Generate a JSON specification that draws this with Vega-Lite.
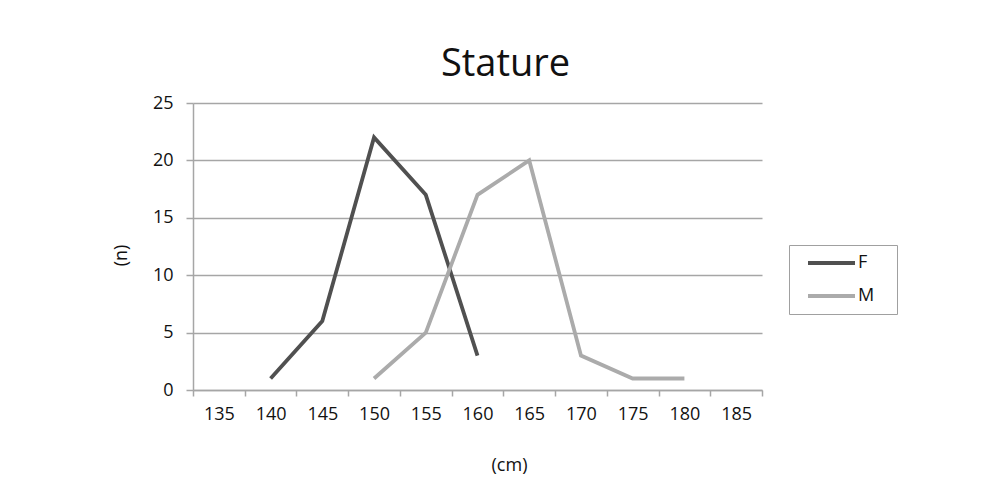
{
  "$schema": "https://vega.github.io/schema/vega-lite/v6.json",
  "autosize": {"type": "none"},
  "padding": {"left": 193, "top": 103, "right": 226, "bottom": 104},
  "width": 569,
  "height": 287,
  "background": "white",
  "title": {
    "text": "Stature",
    "font": "Open Sans",
    "fontSize": 38,
    "fontWeight": "normal",
    "color": "#111111",
    "anchor": "middle",
    "dx": 28,
    "offset": 10
  },
  "data": {
    "values": [
      {"cm": 140, "n": 1, "sex": "F"},
      {"cm": 145, "n": 6, "sex": "F"},
      {"cm": 150, "n": 22, "sex": "F"},
      {"cm": 155, "n": 17, "sex": "F"},
      {"cm": 160, "n": 3, "sex": "F"},
      {"cm": 150, "n": 1, "sex": "M"},
      {"cm": 155, "n": 5, "sex": "M"},
      {"cm": 160, "n": 17, "sex": "M"},
      {"cm": 165, "n": 20, "sex": "M"},
      {"cm": 170, "n": 3, "sex": "M"},
      {"cm": 175, "n": 1, "sex": "M"},
      {"cm": 180, "n": 1, "sex": "M"}
    ]
  },
  "mark": {"type": "line", "strokeWidth": 3.8, "strokeJoin": "miter"},
  "encoding": {
    "x": {
      "field": "cm",
      "type": "ordinal",
      "bandPosition": 0.5,
      "scale": {"type": "band", "domain": [135, 140, 145, 150, 155, 160, 165, 170, 175, 180, 185], "paddingInner": 0, "paddingOuter": 0},
      "axis": {
        "title": "(cm)",
        "labelAngle": 0,
        "tickBand": "extent",
        "grid": false,
        "domainColor": "#a6a6a6",
        "domainWidth": 1.5,
        "tickColor": "#a6a6a6",
        "tickWidth": 1.5,
        "tickSize": 6,
        "labelPadding": 9,
        "titleX": 316,
        "titleY": 75,
        "titleBaseline": "middle",
        "titleAnchor": null
      }
    },
    "y": {
      "field": "n",
      "type": "quantitative",
      "scale": {"domain": [0, 25]},
      "axis": {
        "title": "(n)",
        "values": [0, 5, 10, 15, 20, 25],
        "grid": true,
        "gridColor": "#a6a6a6",
        "gridWidth": 1.5,
        "domainColor": "#a6a6a6",
        "domainWidth": 1.5,
        "tickColor": "#a6a6a6",
        "tickWidth": 1.5,
        "tickSize": 7,
        "labelPadding": 13,
        "titleAngle": -90,
        "titleX": -72,
        "titleY": 152,
        "titleBaseline": "middle",
        "titleAnchor": null
      }
    },
    "color": {
      "field": "sex",
      "type": "nominal",
      "scale": {"domain": ["F", "M"], "range": ["#505050", "#ababab"]},
      "legend": {
        "title": null,
        "orient": "none",
        "legendX": 596,
        "legendY": 142,
        "symbolType": "M0.25,0H12M18.2,0L18.2,0",
        "symbolSize": 64,
        "symbolStrokeWidth": 4,
        "labelOffset": 42,
        "labelFontSize": 18,
        "labelFont": "Open Sans",
        "labelColor": "#111111",
        "strokeColor": "#a0a0a0",
        "padding": 9,
        "rowPadding": 15
      }
    }
  },
  "config": {
    "font": "Open Sans",
    "view": {"stroke": null},
    "axis": {
      "labelFont": "Open Sans",
      "labelFontSize": 18,
      "labelColor": "#111111",
      "titleFont": "Open Sans",
      "titleFontSize": 18,
      "titleFontWeight": "normal",
      "titleColor": "#111111"
    }
  }
}
